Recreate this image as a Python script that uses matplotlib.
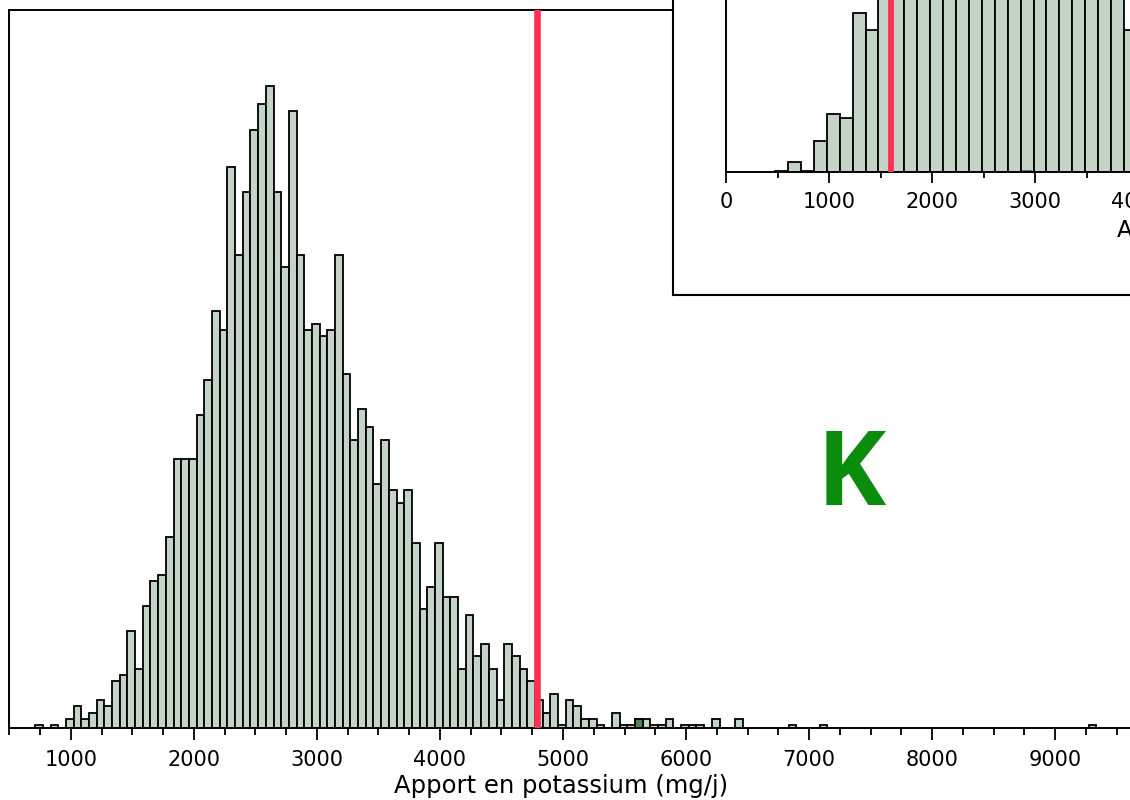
import numpy as np
import matplotlib
matplotlib.use("Agg")
import matplotlib.pyplot as plt
from matplotlib.ticker import MultipleLocator

# ---------------- data ----------------
main_bin_start = 710.0
main_bin_width = 62.5
main_counts = [
    1, 0, 1, 0, 2, 4, 2, 3, 5, 4,
    8, 9, 16, 10, 20, 24, 25, 31, 43.5, 43.5,
    43.5, 50.5, 56, 67, 64, 90, 76, 86, 96, 100,
    103, 86, 74, 99, 76, 64, 65, 63, 64, 76,
    57, 46.5, 51.5, 48.5, 39.5, 46.5, 38.5, 36.5, 38.5, 30,
    19.5, 23, 30, 21.5, 21.5, 10, 18.5, 12, 14, 10,
    5, 14, 12, 10, 8, 5, 3, 6, 1, 5,
    4, 2, 2, 1, 0, 3, 1, 1, 2, 2,
    1, 1, 2, 0, 1, 1, 1, 0, 2, 0,
    0, 2, 0, 0, 0, 0, 0, 0, 1, 0,
    0, 0, 1, 0, 0, 0, 0, 0, 0, 0,
    0, 0, 0, 0, 0, 0, 0, 0, 0, 0,
    0, 0, 0, 0, 0, 0, 0, 0, 0, 0,
    0, 0, 0, 0, 0, 0, 0, 1,
]
main_dark_bins = [78]
main_threshold = 4790
main_xlabel = "Apport en potassium (mg/j)"
panel_letter = "K"

inset_bin_start = 476.0
inset_bin_width = 125.5
inset_counts = [
    0.7, 5, 0.7, 15, 28, 26, 77, 69, 95, 105,
    115, 125, 135, 140, 145, 148, 150, 148, 145, 140,
    135, 128, 120, 112, 104, 96, 90, 69, 60, 50,
    40, 30, 22, 15, 10, 6,
]
inset_dark_bins = [19]
inset_dark_vals = [0.8]
inset_threshold = 1600
inset_xlabel = "Apport en sodium (mg/j)"

# ---------------- style ----------------
FILL = "#c3d4c7"
DARK = "#527f5c"
RED = "#fe3155"
GREEN = "#0c8c0c"

W, H = 1130, 800
fig = plt.figure(figsize=(W / 100, H / 100), dpi=100)
plt.rcParams["font.family"] = ["DejaVu Sans"]


def px_rect(x0, y0, x1, y1):
    return [x0 / W, 1 - y1 / H, (x1 - x0) / W, (y1 - y0) / H]


# ---------------- main axes ----------------
sx = 0.12304  # px per mg/j
ax = fig.add_axes(px_rect(9.3, 10, 9.3 + 9500 * sx, 728.3))
edges = main_bin_start + main_bin_width * np.arange(len(main_counts))
ax.bar(edges, main_counts, width=main_bin_width, align="edge",
       color=FILL, edgecolor="black", linewidth=1.3, zorder=2)
for b in main_dark_bins:
    ax.bar(edges[b], main_counts[b], width=main_bin_width, align="edge",
           color=DARK, edgecolor="black", linewidth=1.3, zorder=2.1)
ax.axvline(main_threshold, color=RED, lw=4.8, zorder=3)
ax.set_xlim(500, 10000)
ax.set_ylim(0.5, 0.5 + 718.3 / 6.27)
ax.set_yticks([])
ax.xaxis.set_major_locator(MultipleLocator(1000))
ax.xaxis.set_minor_locator(MultipleLocator(250))
ax.tick_params(axis="x", which="major", length=8.8, width=1.3, labelsize=15, pad=6.8)
ax.tick_params(axis="x", which="minor", length=4.8, width=1.3)
ax.set_xticks([t for t in range(1000, 10000, 1000)])
for s in ax.spines.values():
    s.set_linewidth(1.4)
ax.set_xlabel(main_xlabel, fontsize=17.5)
ax.xaxis.set_label_coords((561 - 9.3) / (9500 * sx), (728.3 - 774.0) / 718.3)
ax.text((851 - 9.3) / (9500 * sx), (728.3 - 505) / 718.3, panel_letter,
        transform=ax.transAxes, ha="center", va="baseline",
        fontsize=75, fontweight="bold", color=GREEN,
        family=["Open Sans", "DejaVu Sans"])

# ---------------- inset ----------------
frame = fig.add_axes(px_rect(673.3, -100, 1400, 295))
frame.set_facecolor("white")
frame.set_xticks([])
frame.set_yticks([])
for s in frame.spines.values():
    s.set_linewidth(1.5)
frame.set_zorder(5)

sxi = 0.1030
axi = fig.add_axes(px_rect(726, -150, 726 + 6000 * sxi, 172))
axi.set_zorder(6)
axi.patch.set_alpha(0)
iedges = inset_bin_start + inset_bin_width * np.arange(len(inset_counts))
axi.bar(iedges, inset_counts, width=inset_bin_width, align="edge",
        color=FILL, edgecolor="black", linewidth=1.3, zorder=2)
for b, v in zip(inset_dark_bins, inset_dark_vals):
    axi.bar(iedges[b] + 0.1 * inset_bin_width, v, width=0.8 * inset_bin_width,
            align="edge", color=DARK, linewidth=0, zorder=2.1)
axi.axvline(inset_threshold, color=RED, lw=4.2, zorder=3)
axi.set_xlim(0, 6000)
axi.set_ylim(0, 322 / 2.06)
axi.set_yticks([])
axi.spines["top"].set_visible(False)
axi.spines["right"].set_visible(False)
for s in ("left", "bottom"):
    axi.spines[s].set_linewidth(1.4)
axi.xaxis.set_major_locator(MultipleLocator(1000))
axi.xaxis.set_minor_locator(MultipleLocator(500))
axi.tick_params(axis="x", which="major", length=7.7, width=1.3, labelsize=15, pad=6.7)
axi.tick_params(axis="x", which="minor", length=4.5, width=1.3)
axi.set_xlabel(inset_xlabel, fontsize=16.5, ha="left")
axi.xaxis.set_label_coords((1116.7 - 726) / (6000 * sxi), (172 - 219.0) / 322)

fig.savefig("out.png", dpi=100)
